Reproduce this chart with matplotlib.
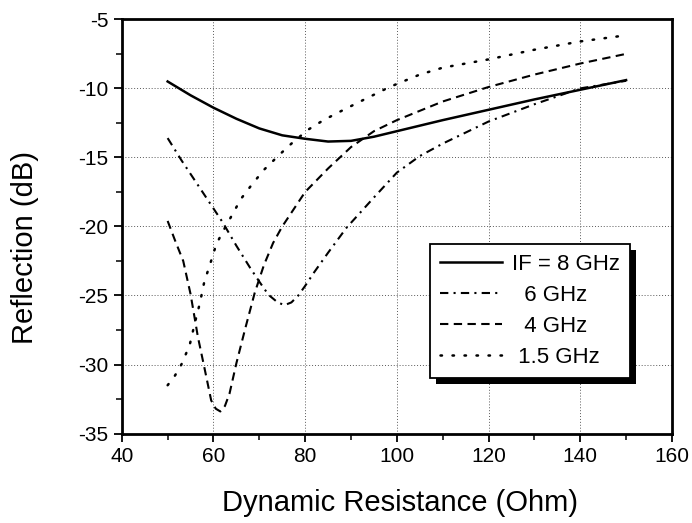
import matplotlib
matplotlib.use("Agg")
import matplotlib.pyplot as plt
from matplotlib.patches import Rectangle
from matplotlib.ticker import MultipleLocator

plt.rcParams['font.family'] = ['Liberation Sans', 'DejaVu Sans']
plt.rcParams['axes.unicode_minus'] = False

# IF = 8 GHz
x8 = [50, 55, 60, 65, 70, 75, 80, 85, 90, 95, 100, 110, 120, 130, 140, 150]
y8 = [-9.5, -10.5, -11.4, -12.2, -12.9, -13.4, -13.65, -13.85, -13.8, -13.5, -13.1,
      -12.3, -11.55, -10.8, -10.1, -9.4]

# 6 GHz
x6 = [50, 53, 56, 59, 62, 65, 68, 70, 72, 74, 75.5, 77, 78.5, 80, 82, 85, 89, 95,
      100, 105, 110, 120, 130, 140, 150]
y6 = [-13.6, -15.2, -16.7, -18.2, -19.7, -21.4, -23.0, -24.0, -24.95, -25.5, -25.7,
      -25.5, -25.0, -24.3, -23.3, -21.9, -20.1, -17.9, -16.1, -14.9, -14.0, -12.4,
      -11.15, -10.0, -9.45]

# 4 GHz
x4 = [50, 51.6, 53.4, 55, 56.6, 58, 59.5, 60.5, 61.5, 62.5, 63.5, 65, 67, 69, 71,
      73, 75, 80, 85, 90, 95, 100, 110, 120, 130, 140, 150]
y4 = [-19.6, -21.0, -22.5, -24.9, -28.0, -30.2, -32.6, -33.2, -33.4, -33.0, -32.1,
      -29.9, -27.3, -24.8, -22.8, -21.2, -20.0, -17.5, -15.8, -14.25, -13.1, -12.3,
      -10.95, -9.9, -9.0, -8.2, -7.5]

# 1.5 GHz
x15 = [50, 51.6, 53, 54.8, 56, 57, 58, 59.2, 60.6, 62, 64, 66, 68.3, 71, 74.4, 77,
       80.6, 84, 87.5, 92, 98.4, 105, 110, 120, 130, 140, 149]
y15 = [-31.5, -30.8, -30.0, -28.6, -26.9, -25.6, -24.0, -22.8, -21.3, -20.4, -19.2,
       -18.0, -17.0, -15.9, -14.8, -14.0, -13.0, -12.3, -11.7, -10.95, -9.9, -9.0,
       -8.5, -7.9, -7.2, -6.6, -6.2]

labels = ['IF = 8 GHz', '  6 GHz', '  4 GHz', ' 1.5 GHz']

fig = plt.figure(figsize=(6.92, 5.23), dpi=100)
ax = fig.add_axes([0.176, 0.171, 0.795, 0.792])

lw = 1.5
ax.plot(x8, y8, color='k', lw=1.8, label=labels[0])
ax.plot(x6, y6, color='k', lw=lw, linestyle=(0, (4, 2.5, 1, 2.5)), label=labels[1])
ax.plot(x4, y4, color='k', lw=lw, linestyle=(0, (4, 2.6)), label=labels[2])
ax.plot(x15, y15, color='k', lw=1.8, linestyle=(0, (0.6, 4.2)),
        dash_capstyle='round', label=labels[3])

ax.set_xlim(40, 160)
ax.set_ylim(-35, -5)
ax.xaxis.set_major_locator(MultipleLocator(20))
ax.xaxis.set_minor_locator(MultipleLocator(10))
ax.yaxis.set_major_locator(MultipleLocator(5))
ax.yaxis.set_minor_locator(MultipleLocator(2.5))
ax.tick_params(which='major', direction='out', length=6, width=1.3, labelsize=15)
ax.tick_params(which='minor', direction='out', length=4, width=1.1)
for s in ax.spines.values():
    s.set_linewidth(2)

ax.grid(True, which='major', linestyle=(0, (1, 2)), color='0.35', linewidth=0.7)

ax.set_xlabel('Dynamic Resistance (Ohm)', fontsize=21, va='center', ha='center')
ax.xaxis.set_label_coords(0.505, -0.168)
ax.set_ylabel('Reflection (dB)', fontsize=21, va='center', ha='center')
ax.yaxis.set_label_coords(-0.176, 0.448)

leg = ax.legend(loc='upper left', bbox_to_anchor=(0.56, 0.458), fontsize=16,
                frameon=True, fancybox=False, framealpha=1, edgecolor='k',
                handlelength=2.8, handletextpad=0.45, labelspacing=0.45,
                borderpad=0.45, borderaxespad=0)
leg.get_frame().set_linewidth(1.3)
leg.set_zorder(5)

fig.canvas.draw()
bb = leg.get_window_extent().transformed(ax.transAxes.inverted())
off_x = 6 / (ax.bbox.width)
off_y = 6 / (ax.bbox.height)
ax.add_patch(Rectangle((bb.x0 + off_x, bb.y0 - off_y), bb.width, bb.height,
                       transform=ax.transAxes, facecolor='k', edgecolor='none',
                       zorder=4, clip_on=False))

fig.savefig('out.png', dpi=100)
